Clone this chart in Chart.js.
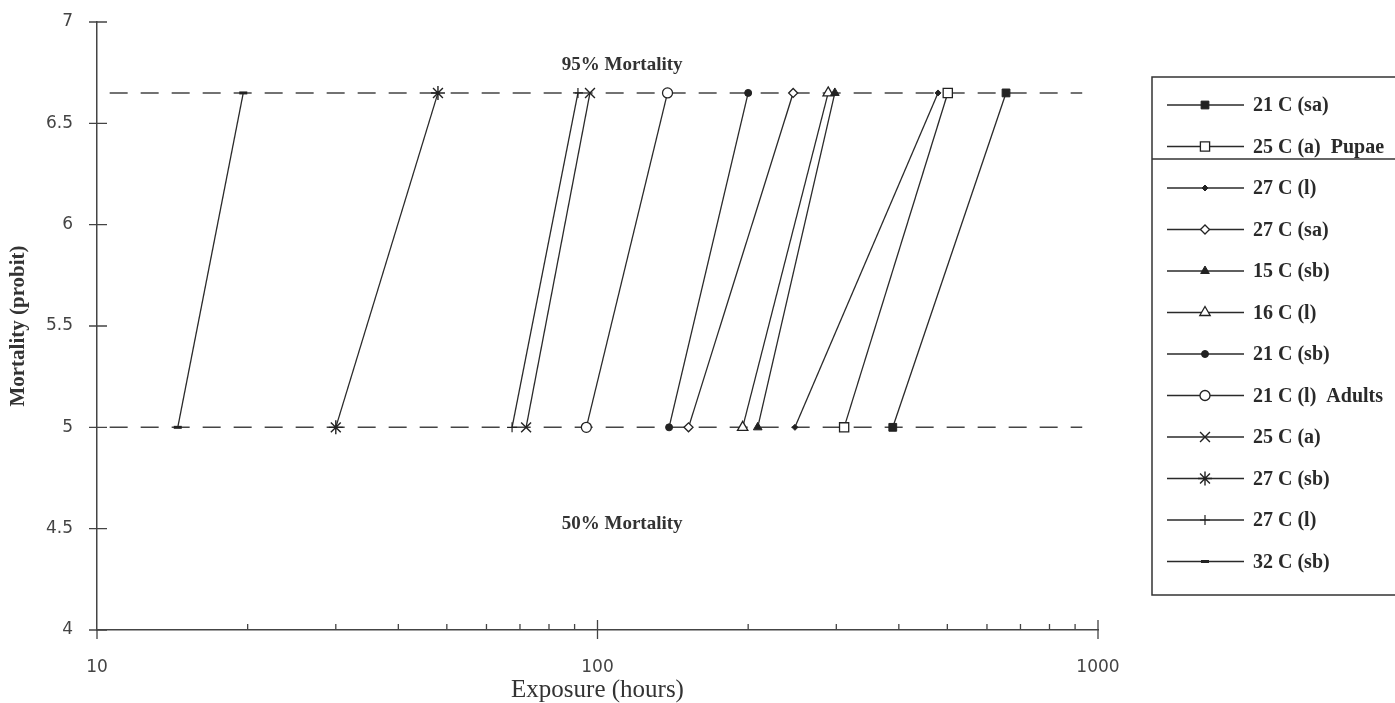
<!DOCTYPE html>
<html>
<head>
<meta charset="utf-8">
<script src="https://cdn.jsdelivr.net/npm/chart.js"></script>
<style>
  html, body { margin: 0; padding: 0; background: #fff; }
  canvas { display: block; }
</style>
</head>
<body>
<canvas id="probitChart" width="1395" height="703"></canvas>
<script>
// Probit mortality against exposure time (hours, log axis)
const seriesNames = ['21 C (sa)', '25 C (a)  Pupae', '27 C (l)', '27 C (sa)', '15 C (sb)', '16 C (l)',
  '21 C (sb)', '21 C (l)  Adults', '25 C (a)', '27 C (sb)', '27 C (l)', '32 C (sb)'];
const lt50Hours = [389, 311, 248, 152, 209, 195, 139, 95, 72, 30, 67.5, 14.5];
const lt95Hours = [655, 501, 479, 246, 298, 289, 200, 138, 96.6, 48, 91.4, 19.6];
const probit50 = 5;
const probit95 = 6.65;
const refLineHours = [10.6, 930];
const xTickLabels = [10, 100, 1000];
const xMinorTicks = [20, 30, 40, 50, 60, 70, 80, 90, 200, 300, 400, 500, 600, 700, 800, 900];

// marker look per series (same order as seriesNames)
const markers = [
  { style: 'rect', r: 5.5, fill: '#222', bw: 1 },
  { style: 'rect', r: 6.5, fill: '#fff', bw: 1.3 },
  { style: 'rectRot', r: 3, fill: '#222', bw: 1 },
  { style: 'rectRot', r: 4.5, fill: '#fff', bw: 1.3 },
  { style: 'triangle', r: 5, fill: '#222', bw: 1 },
  { style: 'triangle', r: 6, fill: '#fff', bw: 1.3 },
  { style: 'circle', r: 3.5, fill: '#222', bw: 1 },
  { style: 'circle', r: 5, fill: '#fff', bw: 1.3 },
  { style: 'crossRot', r: 7, fill: '#222', bw: 1.4 },
  { style: 'star', r: 7, fill: '#222', bw: 1.4 },
  { style: 'cross', r: 5, fill: '#222', bw: 1.2 },
  { style: 'line', r: 4, fill: '#222', bw: 3 }
];

const datasets = seriesNames.map((name, i) => ({
  label: name,
  data: [{ x: lt50Hours[i], y: probit50 }, { x: lt95Hours[i], y: probit95 }],
  borderColor: '#2a2a2a',
  borderWidth: 1.3,
  pointStyle: markers[i].style,
  pointRadius: markers[i].r,
  pointBackgroundColor: markers[i].fill,
  pointBorderColor: '#222',
  pointBorderWidth: markers[i].bw
}));

[probit95, probit50].forEach(p => {
  datasets.push({
    label: 'ref',
    data: refLineHours.map(h => ({ x: h, y: p })),
    borderColor: '#444',
    borderWidth: 1.5,
    borderDash: [18, 13],
    pointRadius: 0
  });
});

const axisTicks = {
  id: 'axisTicks',
  afterDraw(chart) {
    const { ctx, scales: { x, y } } = chart;
    const x0 = x.left, y0 = y.bottom;
    ctx.save();
    ctx.strokeStyle = '#444';
    ctx.lineWidth = 1.3;
    ctx.beginPath();
    y.ticks.forEach(t => {
      const py = y.getPixelForValue(t.value);
      ctx.moveTo(x0 - 8, py);
      ctx.lineTo(x0 + 10, py);
    });
    xMinorTicks.forEach(v => {
      const px = x.getPixelForValue(v);
      ctx.moveTo(px, y0);
      ctx.lineTo(px, y0 - 6);
    });
    xTickLabels.forEach((v, i) => {
      const px = x.getPixelForValue(v);
      ctx.moveTo(px, y0 + 9);
      ctx.lineTo(px, i === 0 ? y0 : y0 - 10);
    });
    ctx.stroke();

    // level labels
    ctx.fillStyle = '#333';
    ctx.font = 'bold 19px "Liberation Serif", "Times New Roman", serif';
    ctx.textAlign = 'center';
    ctx.textBaseline = 'middle';
    const lx = x.getPixelForValue(112);
    ctx.fillText('95% Mortality', lx, y.getPixelForValue(6.785));
    ctx.fillText('50% Mortality', lx, y.getPixelForValue(4.525));
    ctx.restore();
  }
};

const legendBox = {
  id: 'legendBox',
  afterDraw(chart) {
    const ctx = chart.ctx;
    const left = 1152, top = 77, right = 1402, bottom = 595;
    ctx.save();
    ctx.strokeStyle = '#333';
    ctx.lineWidth = 1.5;
    ctx.strokeRect(left, top, right - left, bottom - top);
    ctx.beginPath();
    ctx.moveTo(left, 159);
    ctx.lineTo(right, 159);
    ctx.stroke();

    ctx.font = 'bold 20px "Liberation Serif", "Times New Roman", serif';
    ctx.textBaseline = 'middle';
    ctx.textAlign = 'left';
    seriesNames.forEach((name, i) => {
      const ry = 105 + i * 41.5;
      ctx.strokeStyle = '#2a2a2a';
      ctx.lineWidth = 1.3;
      ctx.beginPath();
      ctx.moveTo(1167, ry);
      ctx.lineTo(1244, ry);
      ctx.stroke();
      const m = markers[i];
      ctx.fillStyle = m.fill;
      ctx.strokeStyle = '#222';
      ctx.lineWidth = m.bw;
      if (Chart.helpers && Chart.helpers.drawPoint) {
        Chart.helpers.drawPoint(ctx, { pointStyle: m.style, radius: m.r, rotation: 0, borderWidth: m.bw }, 1205, ry);
      }
      ctx.fillStyle = '#2a2a2a';
      ctx.fillText(name, 1253, ry + 1);
    });
    ctx.restore();
  }
};

const ctx = document.getElementById('probitChart').getContext('2d');
new Chart(ctx, {
  type: 'line',
  data: { datasets },
  options: {
    responsive: false,
    animation: false,
    layout: { padding: { left: 0, right: 297, top: 22, bottom: 0 } },
    plugins: { legend: { display: false }, tooltip: { enabled: false } },
    scales: {
      x: {
        type: 'logarithmic',
        min: 10,
        max: 1000,
        afterBuildTicks(scale) { scale.ticks = xTickLabels.map(v => ({ value: v })); },
        afterFit(scale) {
          scale.height = 73;
          scale.paddingLeft = 0;
          scale.paddingRight = 0;
        },
        grid: { display: false, drawTicks: false },
        border: { display: true, color: '#444', width: 1.5 },
        ticks: {
          padding: 27,
          color: '#444',
          font: { family: '"DejaVu Sans", sans-serif', size: 17 },
          callback: v => String(v)
        },
        title: {
          display: true,
          text: 'Exposure (hours)',
          color: '#333',
          padding: { top: 0, bottom: -2 },
          font: { family: '"Liberation Serif", "Times New Roman", serif', size: 25 }
        }
      },
      y: {
        min: 4,
        max: 7,
        afterFit(scale) {
          scale.width = 97;
          scale.paddingTop = 0;
          scale.paddingBottom = 0;
        },
        grid: { display: false, drawTicks: false },
        border: { display: true, color: '#444', width: 1.5 },
        ticks: {
          stepSize: 0.5,
          padding: 24,
          color: '#444',
          font: { family: '"DejaVu Sans", sans-serif', size: 17 },
          callback: v => String(v)
        },
        title: {
          display: true,
          text: 'Mortality (probit)',
          color: '#333',
          padding: { top: 6, bottom: 0 },
          font: { family: '"Liberation Serif", "Times New Roman", serif', size: 21, weight: 'bold' }
        }
      }
    }
  },
  plugins: [axisTicks, legendBox]
});
</script>
</body>
</html>
